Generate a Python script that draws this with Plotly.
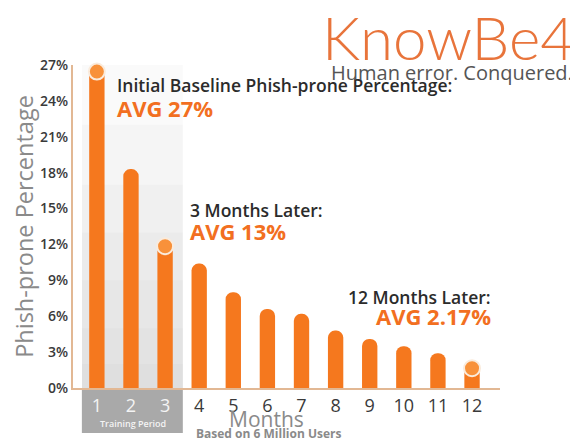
import plotly.graph_objects as go

months = list(range(1, 13))
month_labels = [str(m) for m in months]
phish_pct = [27.0, 18.3, 12.4, 10.4, 8.0, 6.6, 6.2, 4.8, 4.1, 3.5, 2.9, 2.2]
highlight_months = [1, 3, 12]
y_ticks = [0, 3, 6, 9, 12, 15, 18, 21, 24, 27]
y_tick_labels = [f"{t}%" for t in y_ticks]

ORANGE = "#F5781E"
# page has an 8px body margin; the figure is sized so it ends at the window edge
OFF = 8
W, H = 578 - OFF, 441 - OFF
PL, PT, PW, PH = 73, 65, 427, 323          # plot area in window pixels
L, T = PL - OFF, PT - OFF
R, B = W - L - PW, H - T - PH


def px(x):
    return (x - PL) / PW


def py(y):
    return (PT + PH - y) / PH


fig = go.Figure()

fig.add_trace(go.Bar(
    x=months, y=phish_pct, width=0.45,
    marker=dict(color=ORANGE, cornerradius=8, line=dict(width=0)),
    hoverinfo="skip", showlegend=False,
))

hl_y = [phish_pct[m - 1] - 0.55 for m in highlight_months]
fig.add_trace(go.Scatter(
    x=highlight_months, y=hl_y, mode="markers",
    marker=dict(size=16, color="#F8913A", line=dict(color="#FAEBDC", width=2)),
    cliponaxis=False, hoverinfo="skip", showlegend=False,
))

shapes = []
for top in [27, 22, 17, 13, 9, 5, 2]:
    shapes.append(dict(type="rect", xref="x", yref="y", x0=0.56, x1=3.52,
                       y0=0, y1=top, fillcolor="rgba(150,150,150,0.05)",
                       line=dict(width=0), layer="below"))
shapes.append(dict(type="rect", xref="x", yref="paper", x0=0.56, x1=3.52,
                   y0=-0.139, y1=-0.004, fillcolor="#A9A9A9",
                   line=dict(width=0), layer="below"))
fig.update_layout(shapes=shapes)

ticktext = []
for m in months:
    if m <= 3:
        ticktext.append(f"<span style='color:#F4F4F4'>{m}</span>")
    else:
        ticktext.append(month_labels[m - 1])

fig.update_xaxes(
    range=[0.3, 12.82], tickmode="array", tickvals=months, ticktext=ticktext,
    tickfont=dict(family="Open Sans", size=18, color="#3a3a3a"),
    showline=True, linecolor="#E2B894", linewidth=2, showgrid=False,
    zeroline=False, ticks="", automargin=False, ticklabelstandoff=0,
)
fig.update_yaxes(
    range=[0, 27], tickmode="array", tickvals=y_ticks, ticktext=y_tick_labels,
    tickfont=dict(family="Open Sans", size=14, color="#3a3a3a", weight=600),
    showline=True, linecolor="#E2B894", linewidth=2, showgrid=False,
    zeroline=False, ticks="", automargin=False,
    title=dict(text="Phish-prone Percentage",
               font=dict(family="Open Sans", size=23.5, color="#8a8a8a", weight=500),
               standoff=6),
)

ann = []


def txt(text, x, y, size, color, anchor="left", weight=400, family="Open Sans"):
    ann.append(dict(text=text, x=px(x), y=py(y), xref="paper", yref="paper",
                    xanchor=anchor, yanchor="middle", showarrow=False,
                    font=dict(family=family, size=size, color=color, weight=weight)))


txt("Initial Baseline Phish-prone Percentage:", 115, 85, 17.5, "#2b2b2b", weight=600)
txt("AVG 27%", 115, 108, 22, "#F26F21", weight=700)
txt("3 Months Later:", 188, 210, 17.5, "#2b2b2b", weight=600)
txt("AVG 13%", 188, 231, 22, "#F26F21", weight=700)
txt("12 Months Later:", 493, 297, 17.5, "#2b2b2b", anchor="right", weight=600)
txt("AVG 2.17%", 493, 316, 22, "#F26F21", anchor="right", weight=700)
txt("Training Period", 133, 423, 9, "#F4F4F4", anchor="center", weight=600)
txt("Months", 266, 419, 21, "#8a8a8a", anchor="center")
txt("Based on 6 Million Users", 268, 433, 12, "#8a8a8a", anchor="center", weight=700)
txt("KnowBe4", 577, 37, 60, "#E8743B", anchor="right", weight=300, family="Lato")
txt("Human error. Conquered.", 575, 73, 20, "#555555", anchor="right")

fig.update_layout(
    width=W, height=H, margin=dict(l=L, r=R, t=T, b=B, autoexpand=False),
    paper_bgcolor="white", plot_bgcolor="white",
    annotations=ann, bargap=0.5, showlegend=False,
)

fig.write_html("out.html")
